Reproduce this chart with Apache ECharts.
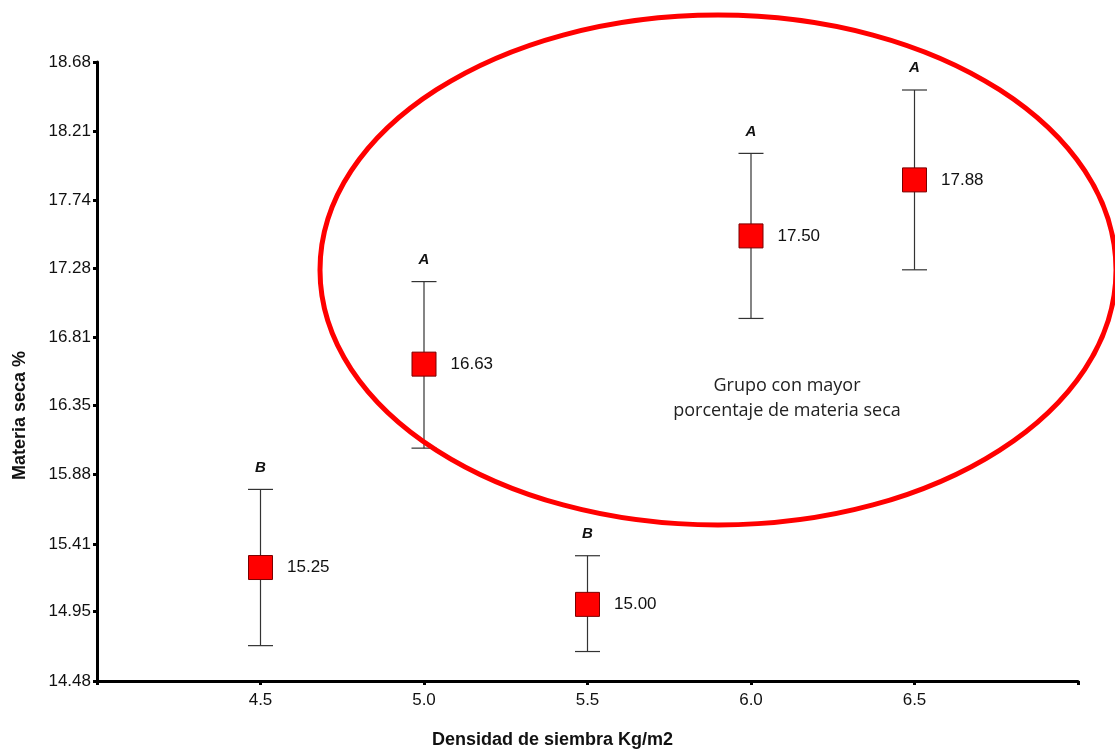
<!DOCTYPE html>
<html>
<head>
<meta charset="utf-8">
<script src="https://cdn.jsdelivr.net/npm/echarts@6/dist/echarts.min.js"></script>
<style>
  html, body { margin: 0; padding: 0; background: #fff; }
  #chart { width: 1115px; height: 751px; }
</style>
</head>
<body>
<div id="chart"></div>
<script>
// Planting density (kg/m2) and dry matter (%) means with error bars
const densities = [4.5, 5.0, 5.5, 6.0, 6.5];
const means = [15.25, 16.63, 15.00, 17.50, 17.88];
const lowers = [14.72, 16.06, 14.68, 16.94, 17.27];
const uppers = [15.78, 17.19, 15.33, 18.06, 18.49];
const groups = ['B', 'A', 'B', 'A', 'A'];

const yTickLabels = ['14.48', '14.95', '15.41', '15.88', '16.35', '16.81', '17.28', '17.74', '18.21', '18.68'];
const xTickValues = [4.0, 4.5, 5.0, 5.5, 6.0, 6.5, 7.0];
const xLabelValues = [4.5, 5.0, 5.5, 6.0, 6.5];

const yTicks = yTickLabels.map(Number);
const pointData = densities.map((d, i) => [d, means[i]]);
const barData = densities.map((d, i) => [d, lowers[i], uppers[i], groups[i]]);

const chart = echarts.init(document.getElementById('chart'), null, { renderer: 'canvas' });

const axisCommon = {
  axisLine: { show: true, onZero: false, lineStyle: { color: '#000', width: 3 } },
  axisTick: { show: true, inside: false, length: 4, lineStyle: { color: '#000', width: 3 } },
  splitLine: { show: false }
};

chart.setOption({
  backgroundColor: '#fff',
  animation: false,
  grid: { left: 97, right: 37, top: 62, bottom: 70, containLabel: false, outerBoundsMode: 'none' },
  xAxis: Object.assign({}, axisCommon, {
    type: 'value',
    min: 4.0,
    max: 7.0,
    interval: 0.5,
    name: 'Densidad de siembra Kg/m2',
    nameLocation: 'middle',
    nameGap: 50,
    nameTextStyle: { fontFamily: 'Liberation Sans, Arial', fontSize: 18, fontWeight: 'bold', color: '#111', padding: [0, 70, 0, 0] },
    axisTick: Object.assign({}, axisCommon.axisTick, { customValues: xTickValues }),
    axisLabel: {
      customValues: xLabelValues,
      formatter: v => v.toFixed(1),
      margin: 11,
      fontFamily: 'Liberation Sans, Arial', fontSize: 17, color: '#111'
    }
  }),
  yAxis: Object.assign({}, axisCommon, {
    type: 'value',
    min: yTicks[0],
    max: yTicks[yTicks.length - 1],
    name: 'Materia seca %',
    nameLocation: 'middle',
    nameGap: 68,
    nameTextStyle: { fontFamily: 'Liberation Sans, Arial', fontSize: 18, fontWeight: 'bold', color: '#111', padding: [0, 88, 0, 0] },
    axisTick: Object.assign({}, axisCommon.axisTick, { customValues: yTicks }),
    axisLabel: {
      customValues: yTicks,
      formatter: v => v.toFixed(2),
      margin: 6,
      fontFamily: 'Liberation Sans, Arial', fontSize: 17, color: '#111'
    }
  }),
  series: [
    {
      // error bars with group letters
      type: 'custom',
      data: barData,
      z: 2,
      renderItem: function (params, api) {
        const x = api.value(0);
        const lo = api.coord([x, api.value(1)]);
        const hi = api.coord([x, api.value(2)]);
        const half = 12.5;
        const style = { stroke: '#333', lineWidth: 1.2 };
        return {
          type: 'group',
          children: [
            { type: 'line', shape: { x1: lo[0], y1: lo[1], x2: hi[0], y2: hi[1] }, style: style },
            { type: 'line', shape: { x1: lo[0] - half, y1: lo[1], x2: lo[0] + half, y2: lo[1] }, style: style },
            { type: 'line', shape: { x1: hi[0] - half, y1: hi[1], x2: hi[0] + half, y2: hi[1] }, style: style },
            {
              type: 'text',
              x: hi[0], y: hi[1] - 22,
              style: {
                text: api.value(3),
                align: 'center', verticalAlign: 'middle',
                font: 'italic bold 15px "Liberation Sans", Arial',
                fill: '#111'
              }
            }
          ]
        };
      }
    },
    {
      type: 'scatter',
      data: pointData,
      z: 3,
      symbol: 'rect',
      symbolSize: 24,
      itemStyle: { color: '#ff0000', borderColor: '#7a0000', borderWidth: 1, opacity: 1 },
      label: {
        show: true,
        position: 'right',
        distance: 14,
        formatter: p => p.value[1].toFixed(2),
        fontFamily: 'Liberation Sans, Arial',
        fontSize: 17,
        color: '#111'
      }
    }
  ],
  graphic: [
    {
      type: 'ellipse',
      shape: { cx: 718, cy: 270, rx: 398, ry: 255 },
      style: { fill: 'none', stroke: '#ff0000', lineWidth: 5 },
      z: 10
    },
    {
      type: 'text',
      x: 787, y: 398,
      style: {
        text: 'Grupo con mayor\nporcentaje de materia seca',
        align: 'center', verticalAlign: 'middle',
        font: '18px "Open Sans", "Noto Sans", sans-serif',
        lineHeight: 25,
        fill: '#222'
      },
      z: 10
    }
  ]
});
</script>
</body>
</html>
